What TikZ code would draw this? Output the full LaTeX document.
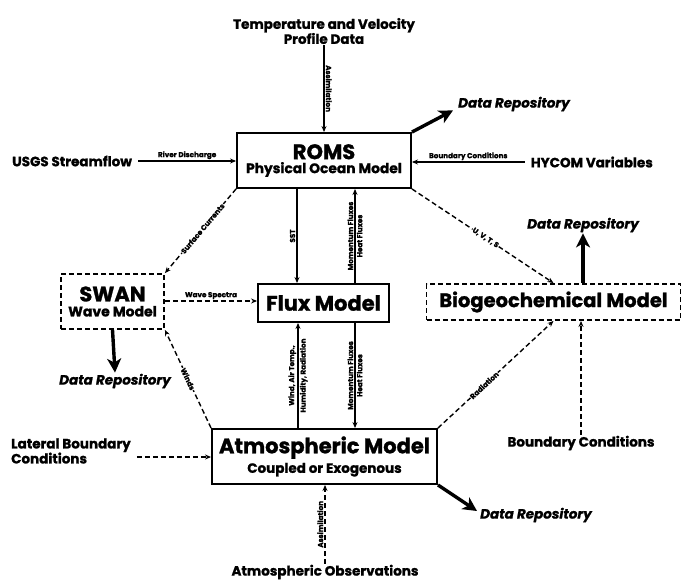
\documentclass[tikz,border=0pt]{standalone}
\usepackage{fontspec}
\setmainfont{Poppins}[BoldFeatures={FakeBold=1.2},BoldItalicFeatures={FakeBold=1.2}]
\usetikzlibrary{arrows.meta}

\begin{document}
\begin{tikzpicture}[x=1pt,y=-1pt,
  modelbox/.style={draw, line width=1.9pt, inner sep=0pt, align=center, fill=white},
  dashbox/.style={modelbox, dash pattern=on 5pt off 3pt},
  flow/.style={line width=1.4pt, -{Stealth[length=6pt,width=5pt]}},
  dflow/.style={flow, dash pattern=on 5pt off 3pt},
  repo/.style={line width=3.4pt, -{Stealth[length=14pt,width=14pt,inset=4pt]}},
  tag/.style={font=\fontsize{7.2}{8}\selectfont\bfseries, inner sep=1.2pt},
  ontag/.style={tag, fill=white, inner sep=0.5pt},
  ext/.style={font=\fontsize{13.5}{15}\selectfont\bfseries, align=center, inner sep=1pt},
  repotext/.style={font=\fontsize{13.5}{15}\selectfont\bfseries\itshape, inner sep=1pt}
]
\useasboundingbox (0,0) rectangle (684,580);

% model boxes
\node[modelbox, minimum width=174pt, minimum height=55pt] (roms) at (324,160.5)
  {{\fontsize{21}{22}\selectfont\bfseries ROMS}\\[2pt]{\fontsize{13.8}{15}\selectfont\bfseries Physical Ocean Model}};
\node[dashbox, minimum width=103pt, minimum height=55pt] (swan) at (112.5,301.5)
  {{\fontsize{21}{22}\selectfont\bfseries SWAN}\\[3pt]{\fontsize{14}{15}\selectfont\bfseries Wave Model}};
\node[modelbox, minimum width=131pt, minimum height=38pt] (flux) at (323.5,303)
  {{\fontsize{21}{22}\selectfont\bfseries Flux Model}};
\node[modelbox, minimum width=225pt, minimum height=55pt] (atmos) at (324.5,456.5)
  {{\fontsize{21}{22}\selectfont\bfseries Atmospheric Model}\\[3pt]{\fontsize{13.5}{15}\selectfont\bfseries Coupled or Exogenous}};
\node[dashbox, minimum width=254pt, minimum height=36pt] (bio) at (553.5,302)
  {{\fontsize{19.5}{20}\selectfont\bfseries Biogeochemical Model}};

% external data sources
\node[ext] (tv) at (324,31) {Temperature and Velocity\\Profile Data};
\node[ext, anchor=west] (usgs) at (11,161) {USGS Streamflow};
\node[ext, anchor=east] (hycom) at (654,162) {HYCOM Variables};
\node[ext, align=left, anchor=west] (lat) at (10,451) {Lateral Boundary\\Conditions};
\node[ext] (bc) at (581,443) {Boundary Conditions};
\node[ext] (obs) at (325,572) {Atmospheric Observations};

% data repositories
\node[repotext, anchor=west] (rrepo) at (457,104) {Data Repository};
\node[repotext] (srepo) at (115,381) {Data Repository};
\node[repotext] (brepo) at (583,225) {Data Repository};
\node[repotext, anchor=west] (arepo) at (479,515) {Data Repository};

% forcing into ROMS
\draw[flow] (tv.south) -- (roms.north)
  node[midway, rotate=-90, anchor=south, tag] {Assimilation};
\draw[flow] ([xshift=5pt]usgs.east) -- (usgs.east -| roms.west)
  node[midway, above, tag] {River Discharge};
\draw[flow] ([xshift=-5pt]hycom.west) -- (hycom.west -| roms.east)
  node[midway, above, tag] {Boundary Conditions};

% ROMS exchanges
\draw[dflow] (roms.south west) -- (swan.north east)
  node[pos=0.47, sloped, ontag] {Surface Currents};
\draw[dflow] (roms.south east) -- (bio.north)
  node[pos=0.52, sloped, ontag] {U, V, T, S};
\draw[flow] (roms.south -| 297,0) -- (flux.north -| 297,0)
  node[midway, rotate=90, anchor=south, tag] {SST};
\draw[flow] (flux.north -| 355,0) -- (roms.south -| 355,0)
  node[midway, rotate=90, anchor=south, tag] {Momentum Fluxes}
  node[midway, rotate=90, anchor=north, tag] {Heat Fluxes};

% SWAN exchanges
\draw[dflow] (swan.east |- 0,301) -- (flux.west |- 0,301)
  node[midway, above, tag] {Wave Spectra};
\draw[dflow] (atmos.north west) -- (swan.south east)
  node[pos=0.5, sloped, ontag] {Winds};

% Atmosphere exchanges
\draw[flow] (atmos.north -| 298,0) -- (flux.south -| 298,0)
  node[midway, rotate=90, anchor=south, tag] {Wind, Air Temp.,}
  node[midway, rotate=90, anchor=north, tag] {Humidity, Radiation};
\draw[flow] (flux.south -| 355,0) -- (atmos.north -| 355,0)
  node[midway, rotate=90, anchor=south, tag] {Momentum Fluxes}
  node[midway, rotate=90, anchor=north, tag] {Heat Fluxes};
\draw[dflow] (atmos.north east) -- (bio.south)
  node[pos=0.4, sloped, ontag] {Radiation};
\draw[dflow] ([xshift=5pt]lat.east |- 0,457) -- (atmos.west |- 0,457);
\draw[dflow] (obs.north) -- (obs.north |- atmos.south)
  node[midway, rotate=90, anchor=south, tag] {Assimilation};
\draw[dflow] (bc.north) -- (bc.north |- bio.south);

% outputs to repositories
\draw[repo] (roms.north east) -- ([xshift=-4pt,yshift=2pt]rrepo.south west);
\draw[repo] (swan.south) -- (srepo.north);
\draw[repo] (bio.north -| brepo.south) -- (brepo.south);
\draw[repo] (atmos.south east) -- ([xshift=-2pt,yshift=4pt]arepo.west);
\end{tikzpicture}
\end{document}
